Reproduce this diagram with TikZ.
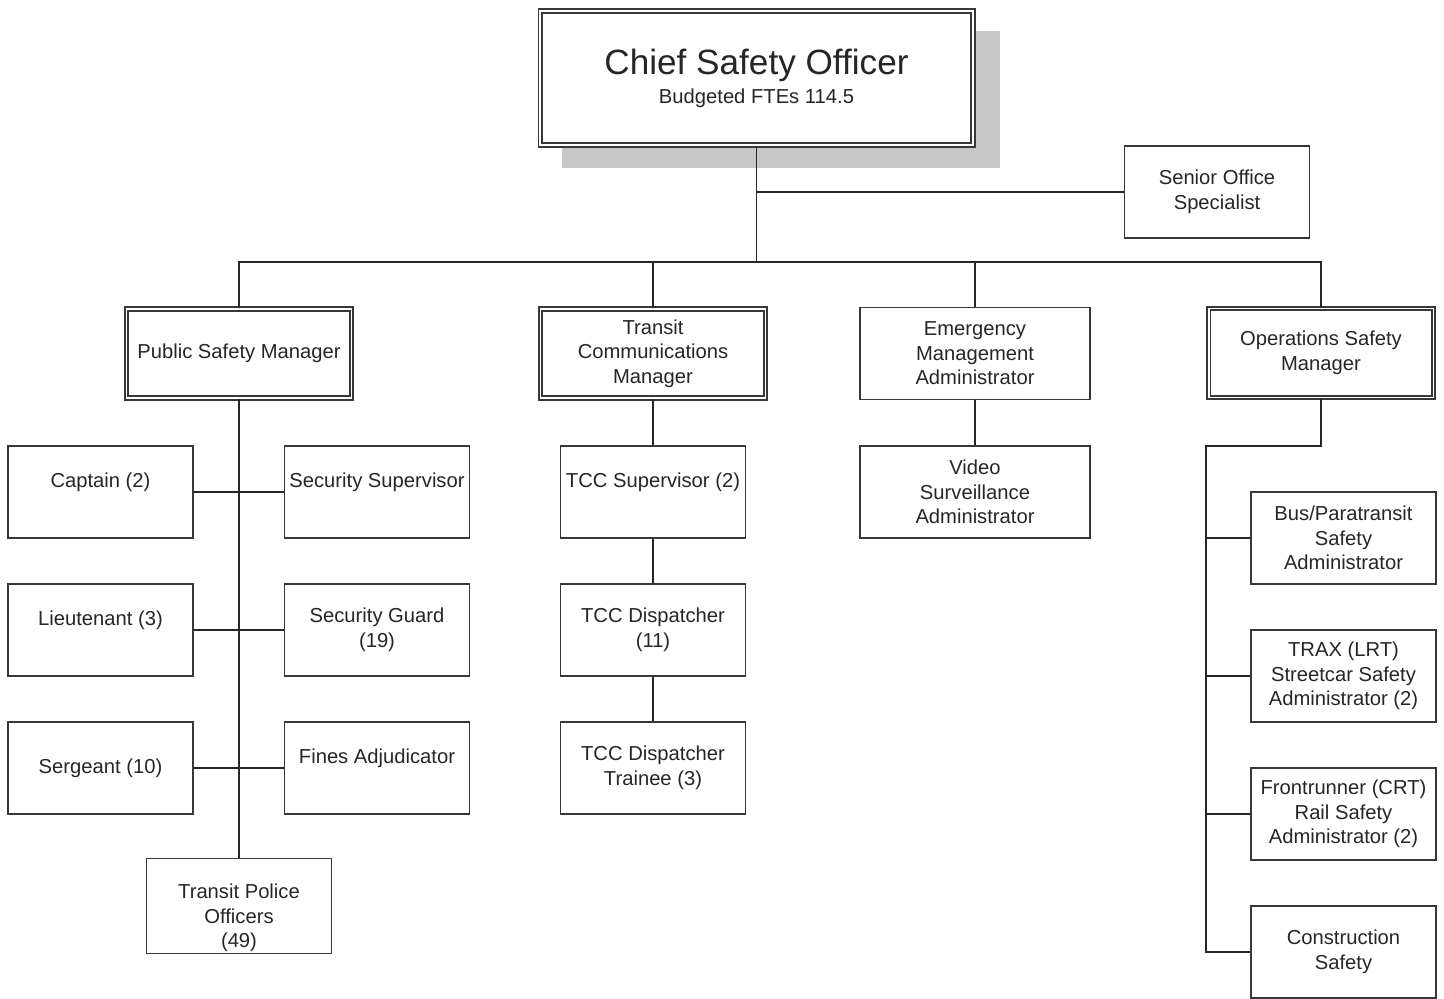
\documentclass[tikz,border=0pt]{standalone}
\usepackage{fontspec}
\setmainfont{Liberation Sans}

\tikzset{
    post/.style = {draw=black!78, line width=0.8pt, fill=white, align=center,
        text=black!85, font=\fontsize{11.5}{14}\selectfont, inner sep=1pt,
        minimum width=3.7cm, minimum height=1.84cm},
    widepost/.style = {post, minimum width=4.6cm},
    headpost/.style = {widepost, double=white, double distance=1.1pt,
        line width=0.9pt, minimum width=4.5cm, minimum height=1.78cm},
    link/.style = {draw=black!85, line width=0.8pt}
}

\begin{document}
\begin{tikzpicture}[x=0.02cm, y=-0.02cm]
    \useasboundingbox (0,0) rectangle (1444,998);

    % top of the chart
    \fill[black!22] (562,31) rectangle (1000,168);
    \node[headpost, minimum width=8.66cm, minimum height=2.68cm] (chief) at (756.5,78)
        {{\fontsize{20}{23}\selectfont Chief Safety Officer}\\[2.5pt]Budgeted FTEs 114.5};
    \node[post] (senior) at (1217,192) {Senior Office\\Specialist};

    % managers
    \node[headpost] (psm) at (239,353.5) {Public Safety Manager};
    \node[headpost] (tcm) at (653,353.5) {Transit\\Communications\\Manager};
    \node[widepost] (ema) at (975,353.5) {Emergency\\Management\\Administrator};
    \node[headpost] (osm) at (1321,353) {Operations Safety\\Manager};

    % public safety
    \node[post] (captain) at (100.5,492) {Captain (2)\\\mbox{}};
    \node[post] (secsup) at (377,492) {Security Supervisor\\\mbox{}};
    \node[post] (lieut) at (100.5,630) {Lieutenant (3)\\\mbox{}};
    \node[post] (guard) at (377,630) {Security Guard\\(19)};
    \node[post] (sergeant) at (100.5,768) {Sergeant (10)};
    \node[post] (fines) at (377,768) {Fines Adjudicator\\\mbox{}};
    \node[post] (police) at (239,906) {\mbox{}\\[8pt]Transit Police\\Officers\\(49)};

    % transit communications
    \node[post] (tccsup) at (653,492) {TCC Supervisor (2)\\\mbox{}};
    \node[post] (disp) at (653,630) {TCC Dispatcher\\(11)};
    \node[post] (trainee) at (653,768) {TCC Dispatcher\\Trainee (3)};

    % emergency management
    \node[widepost] (video) at (975,492) {Video\\Surveillance\\Administrator};

    % operations safety
    \node[post] (bus) at (1343.5,538) {Bus/Paratransit\\Safety\\Administrator};
    \node[post] (trax) at (1343.5,676) {TRAX (LRT)\\Streetcar Safety\\Administrator (2)};
    \node[post] (front) at (1343.5,814) {Frontrunner (CRT)\\Rail Safety\\Administrator (2)};
    \node[post] (constr) at (1343.5,952) {Construction\\Safety};

    % connectors
    \coordinate (bar) at (0,262);
    \coordinate (opsrail) at (1206,446);
    \draw[link] (chief.south) -- (chief.south |- bar);
    \draw[link] (chief.south |- senior.west) -- (senior.west);
    \draw[link] (psm.north) -- (psm.north |- bar) -| (osm.north);
    \draw[link] (tcm.north) -- (tcm.north |- bar);
    \draw[link] (ema.north) -- (ema.north |- bar);

    \draw[link] (psm.south) -- (police.north);
    \draw[link] (captain.east) -- (secsup.west);
    \draw[link] (lieut.east) -- (guard.west);
    \draw[link] (sergeant.east) -- (fines.west);

    \draw[link] (tcm.south) -- (tccsup.north);
    \draw[link] (tccsup.south) -- (disp.north);
    \draw[link] (disp.south) -- (trainee.north);

    \draw[link] (ema.south) -- (video.north);

    \draw[link] (osm.south) |- (opsrail) -- (opsrail |- constr.west) -- (constr.west);
    \foreach \n in {bus, trax, front}
        \draw[link] (opsrail |- \n.west) -- (\n.west);
\end{tikzpicture}
\end{document}
